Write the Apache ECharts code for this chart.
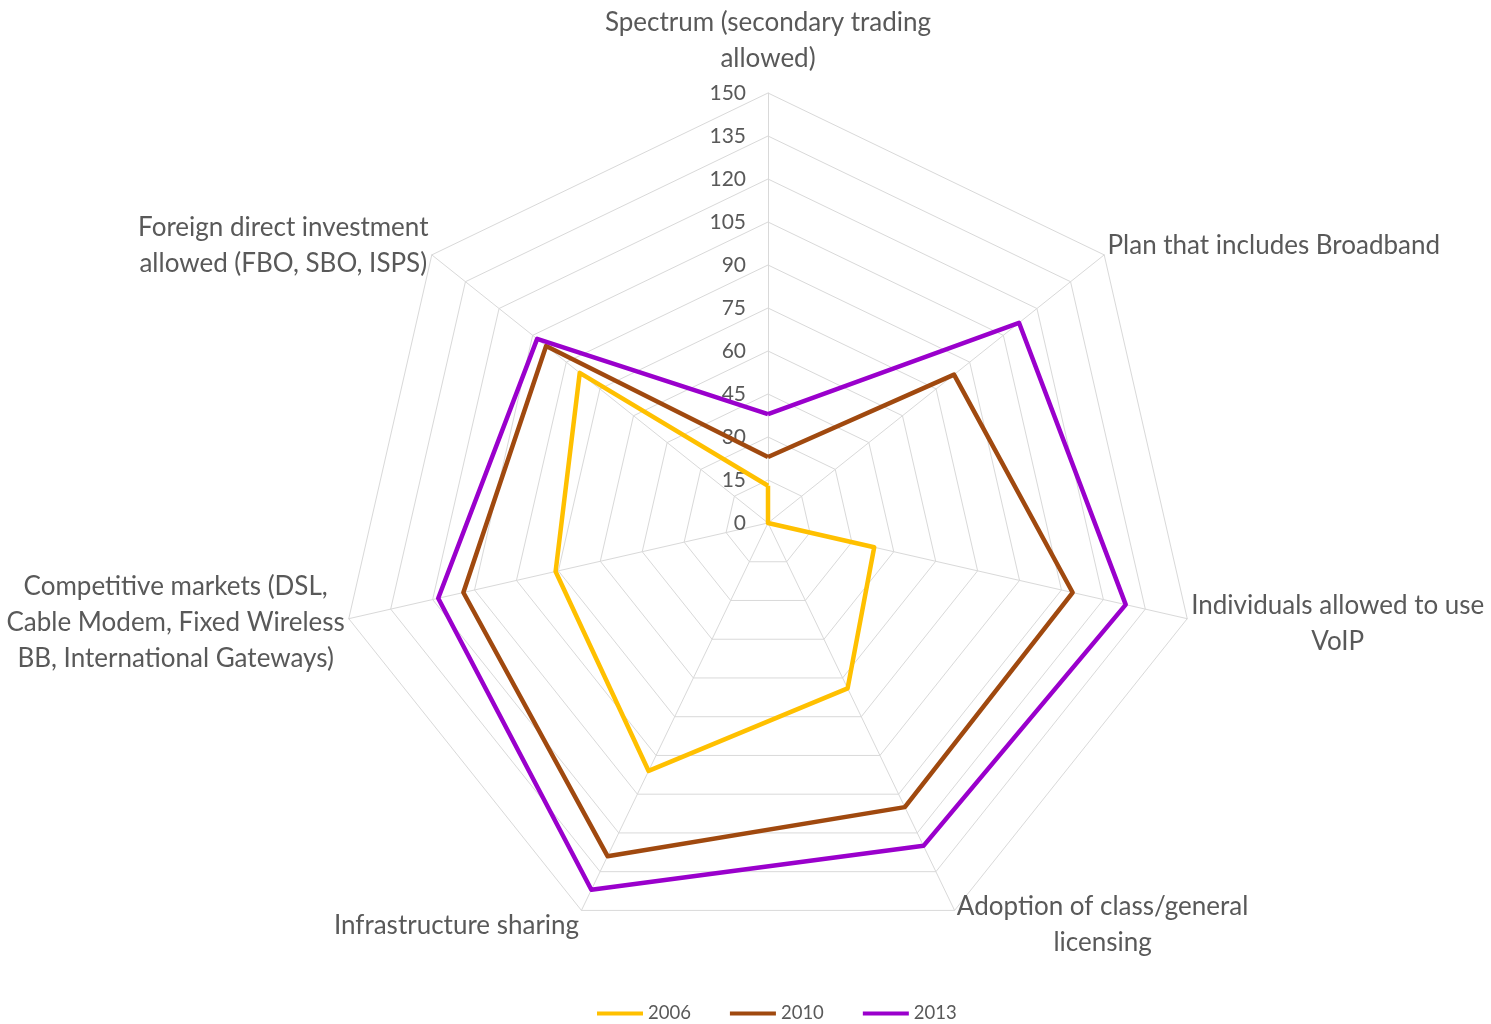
<!DOCTYPE html>
<html>
<head>
<meta charset="utf-8">
<script src="https://cdn.jsdelivr.net/npm/echarts@6/dist/echarts.min.js"></script>
<style>
html,body{margin:0;padding:0;background:#fff;}
#chart{width:1491px;height:1024px;}
</style>
</head>
<body>
<div id="chart"></div>
<script>
// categories listed clockwise starting at the top
const categories = [
  'Spectrum (secondary trading\nallowed)',
  'Plan that includes Broadband',
  'Individuals allowed to use\nVoIP',
  'Adoption of class/general\nlicensing',
  'Infrastructure sharing',
  'Competitive markets (DSL,\nCable Modem, Fixed Wireless\nBB, International Gateways)',
  'Foreign direct investment\nallowed (FBO, SBO, ISPS)'
];
const seriesNames = ['2006', '2010', '2013'];
const values2006 = [13, 0, 38, 64, 96, 76, 84];
const values2010 = [23, 83, 109, 110, 129, 109, 99];
const values2013 = [38, 112, 128, 125, 142, 118, 103];
const axisMin = 0, axisMax = 150, axisSplit = 10;

const colors = ['#FFC000', '#A0490F', '#9A00CC'];
const FONT = 'Lato';
const NAME_SIZE = 26;

// ECharts radar runs counter-clockwise: reorder so the chart reads clockwise
const order = categories.map((c, i) => (categories.length - i) % categories.length);
const reorder = arr => order.map(i => arr[i]);

const ctx = document.createElement('canvas').getContext('2d');
ctx.font = NAME_SIZE + 'px ' + FONT;
const rich = {};
const nameGaps = [16, 3, 3, 3, 3, 3, 3];
const paddings = [[0,0,0,0],[0,0,14,0],[8,0,0,0],[22,0,0,0],[24,0,0,0],[6,0,0,0],[0,0,14,0]];
const indicators = order.map(i => {
  const c = categories[i];
  const lines = c.split('\n');
  const w = Math.max(...lines.map(l => ctx.measureText(l).width)) + 2;
  rich['n' + i] = {width: w, align: 'center', fontSize: NAME_SIZE, fontFamily: FONT, color: '#595959', lineHeight: 36};
  const ind = {name: c, min: axisMin, max: axisMax, nameGap: nameGaps[i], nameTextStyle: {padding: paddings[i]}};
  if (i === 0) ind.axisLabel = {show: true};
  return ind;
});

const chart = echarts.init(document.getElementById('chart'), null, {renderer: 'canvas'});
chart.setOption({
  backgroundColor: '#fff',
  animation: false,
  color: colors,
  legend: {
    data: seriesNames,
    left: 597,
    top: 1004,
    padding: 0,
    icon: 'rect',
    itemWidth: 46,
    itemHeight: 4,
    itemGap: 39,
    textStyle: {fontSize: 18.5, fontFamily: FONT, color: '#595959'}
  },
  radar: {
    center: [768, 523],
    radius: 430,
    startAngle: 90,
    splitNumber: axisSplit,
    shape: 'polygon',
    indicator: indicators,
    axisName: {
      color: '#595959',
      fontSize: NAME_SIZE,
      fontFamily: FONT,
      lineHeight: 36,
      rich: rich,
      formatter: function (name) {
        const i = categories.indexOf(name);
        return name.split('\n').map(l => '{n' + i + '|' + l + '}').join('\n');
      }
    },
    splitLine: {lineStyle: {color: '#D9D9D9', width: 1}},
    splitArea: {show: false},
    axisLine: {lineStyle: {color: '#D9D9D9', width: 1}},
    axisTick: {show: false},
    axisLabel: {show: false, color: '#595959', fontSize: 21, fontFamily: FONT, margin: 22}
  },
  series: [{
    type: 'radar',
    symbol: 'none',
    data: [
      {name: seriesNames[0], value: reorder(values2006), lineStyle: {color: colors[0], width: 4.5}, itemStyle: {color: colors[0]}},
      {name: seriesNames[1], value: reorder(values2010), lineStyle: {color: colors[1], width: 4.5}, itemStyle: {color: colors[1]}},
      {name: seriesNames[2], value: reorder(values2013), lineStyle: {color: colors[2], width: 4.5}, itemStyle: {color: colors[2]}}
    ]
  }]
});
</script>
</body>
</html>
